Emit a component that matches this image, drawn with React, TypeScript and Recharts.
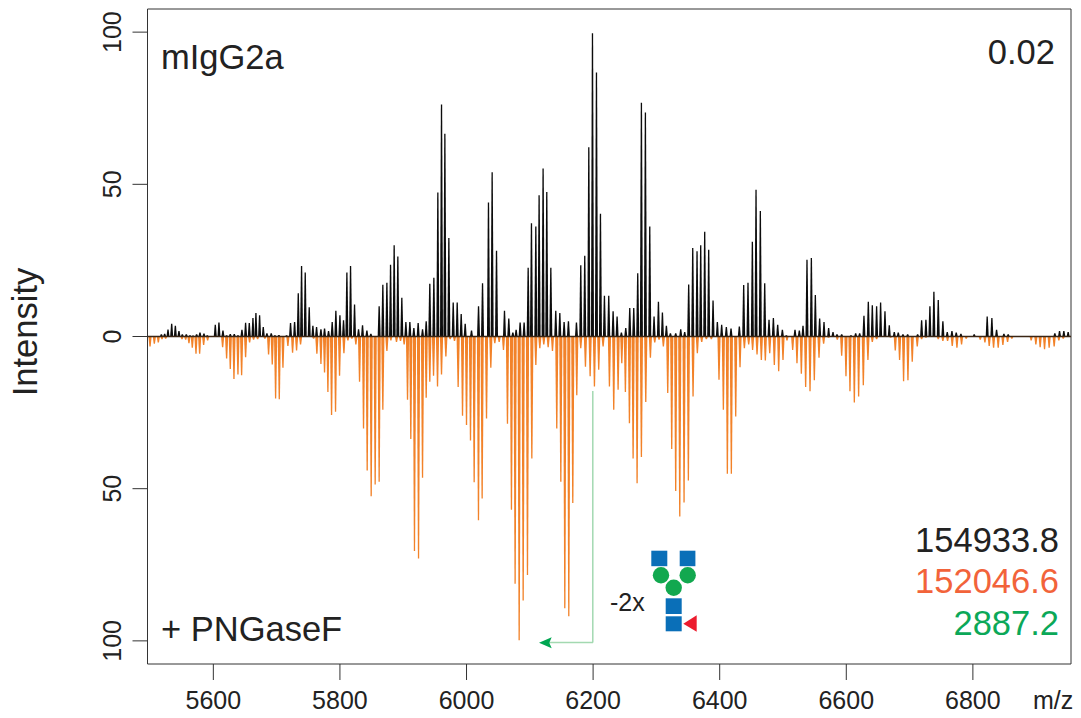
import React from "react";
import {
  ComposedChart,
  Bar,
  XAxis,
  YAxis,
  ReferenceLine,
  ReferenceArea,
  ReferenceDot,
} from "recharts";

// intact mass spectrum, peak m/z and relative intensity
const intactMz = [
  5517.9, 5523.1, 5528.4, 5534.2, 5540, 5545.7, 5551, 5557.3, 5563.1, 5567.9,
  5573.6, 5578.9, 5585.2, 5590.5, 5596.8, 5603.1, 5608.9, 5615.2, 5621, 5626.8,
  5633.1, 5638.9, 5645.2, 5651, 5656.8, 5662.6, 5667.3, 5673.1, 5678.9, 5684.7,
  5691.5, 5697.3, 5703.6, 5715.7, 5722, 5728.4, 5734.2, 5739.4, 5745.2, 5751.5,
  5757.3, 5763.1, 5770, 5775.7, 5782, 5787.8, 5793.6, 5800, 5805.7, 5811,
  5816.8, 5823.1, 5829.4, 5835.7, 5842.6, 5848.9, 5855.2, 5862, 5867.8, 5874.2,
  5880, 5885.7, 5891.5, 5897.8, 5904.2, 5910.5, 5916.8, 5923.6, 5930.5, 5936.3,
  5942, 5948.4, 5954.7, 5960.5, 5965.8, 5972.1, 5979, 5985.3, 5991.6, 5997.9,
  6007.9, 6019, 6025.3, 6034.7, 6040.5, 6047.4, 6060, 6066.8, 6073.2, 6078.4,
  6084.7, 6091, 6097.4, 6102.6, 6109.5, 6114.7, 6121, 6126.8, 6133.2, 6141,
  6147.4, 6154.2, 6161, 6173.7, 6180.5, 6186.8, 6193.2, 6199, 6205.3, 6211.6,
  6217.9, 6224.7, 6231.6, 6237.9, 6244.7, 6251.6, 6257.9, 6264.2, 6270.5, 6276.3,
  6282.6, 6289.5, 6296.3, 6303.2, 6309.5, 6315.8, 6322.1, 6330.5, 6338.4, 6344.7,
  6351, 6357.4, 6364.2, 6370, 6376.3, 6382.6, 6389.5, 6396.3, 6403.1, 6410.5,
  6417.9, 6431, 6437.9, 6444.7, 6451.6, 6457.4, 6464.2, 6471.1, 6477.9, 6484.8,
  6491.6, 6499, 6505.3, 6519, 6525.8, 6531.6, 6537.9, 6544.8, 6551.1, 6557.9,
  6564.8, 6572.1, 6579, 6585.3, 6592.7, 6607.4, 6614.8, 6621.1, 6627.9, 6634.8,
  6641.1, 6647.9, 6654.2, 6661.1, 6667.9, 6675.8, 6682.1, 6689.5, 6696.9, 6712.7,
  6719, 6725.8, 6732.1, 6738.4, 6745.3, 6752.6, 6759.5, 6766.9, 6773.7, 6781.1,
  6802.1, 6822.6, 6830, 6837.4, 6849, 6855.8, 6929.5, 6936.9, 6943.7, 6950.5,
];
const intactIntensity = [
  0.7, 0.9, 2.3, 4.2, 3.5, 1.8, 0.7, 0.7, 0.4, 0.3,
  0.7, 1.3, 1, 0.4, 0.2, 3.9, 4.6, 2, 0.4, 0.8,
  0.8, 0.4, 2.2, 4.5, 4.4, 6.1, 7.7, 7, 3.1, 1.1,
  1.1, 0.4, 0.5, 0.4, 4.4, 4.8, 14.2, 23.2, 21, 9.6,
  3.5, 3.1, 2.4, 2.6, 1.8, 4.8, 8.5, 7, 5.3, 21,
  23.2, 10.5, 2.4, 3.7, 2, 0.9, 0.2, 9.9, 17, 17.7,
  23.6, 30, 26.3, 12.7, 4.8, 4.8, 2.8, 4.4, 2.4, 5,
  17.3, 19.3, 47.3, 76.2, 66.6, 32.4, 11.2, 11.2, 7.4, 4.2,
  2, 9.9, 17.5, 44, 54, 28.2, 8.5, 5.9, 1.3, 2.2,
  4.6, 4.6, 22.6, 37.2, 36.1, 46.4, 55.2, 47.5, 22.6, 8.5,
  7.7, 4.8, 5, 4.6, 23.4, 26.5, 62.2, 99.6, 86.7, 40.3,
  13.4, 13.4, 8.3, 6.6, 1.3, 2.8, 9.4, 9.4, 20.8, 76.8,
  73.6, 36.1, 6.6, 11.4, 7.9, 3.5, 1.1, 1.1, 2.4, 1.5,
  17.1, 29.1, 28, 30, 34.4, 28.5, 11.8, 4.8, 3.9, 3.1,
  2.6, 3.3, 16.9, 17.7, 31.1, 48.2, 41.2, 17.5, 5.5, 6.1,
  3.9, 2.2, 0.4, 2.2, 2, 3.5, 25.2, 25.8, 13.6, 5.9,
  4.8, 2.8, 1.5, 0.7, 0.7, 0.4, 1.1, 1.1, 6.8, 11.4,
  10.3, 9.9, 11.2, 8.3, 3.7, 1.5, 1.3, 0.7, 0.7, 0.7,
  5.3, 5.5, 9.9, 14.7, 12, 5, 1.5, 1.8, 1.3, 0.9,
  0.7, 6.6, 6.1, 2.2, 0.9, 0.7, 1.1, 1.8, 1.8, 1.5,
];

// PNGaseF treated spectrum, drawn downwards
const digestMz = [
  5500, 5506.8, 5513.1, 5518.9, 5524.7, 5550.5, 5556.3, 5561.5, 5566.8, 5572.6,
  5578.4, 5584.7, 5591, 5614.7, 5621, 5626.8, 5632.6, 5638.9, 5644.7, 5651,
  5657.3, 5663.6, 5670, 5681.5, 5687.3, 5693.1, 5698.4, 5704.2, 5710, 5717.8,
  5725.2, 5731.5, 5737.8, 5758.4, 5763.6, 5770, 5775.7, 5781, 5786.8, 5793.1,
  5799.4, 5806.3, 5812.6, 5818.9, 5825.2, 5831, 5837.3, 5843.1, 5849.4, 5855.7,
  5862, 5867.8, 5874.2, 5880.5, 5889.4, 5895.7, 5901.5, 5906.8, 5912, 5917.8,
  5924.2, 5930.5, 5936.3, 5942, 5947.9, 5954.2, 5960.5, 5967.4, 5974.2, 5981,
  5986.8, 5993.7, 6000, 6006.3, 6012.1, 6018.9, 6024.7, 6031.6, 6038.4, 6044.7,
  6051.6, 6058.4, 6064.7, 6071, 6076.8, 6083.2, 6089.5, 6096.3, 6103.2, 6109.5,
  6115.8, 6122.1, 6129, 6135.8, 6142.6, 6149, 6155.3, 6161.6, 6167.9, 6174.2,
  6180.5, 6187.9, 6195.3, 6202.1, 6208.9, 6215.8, 6225.8, 6232.6, 6239.5, 6245.3,
  6251, 6257.4, 6263.2, 6269.5, 6276.3, 6283.2, 6290.5, 6297.4, 6304.2, 6311,
  6317.9, 6324.2, 6330.5, 6336.9, 6343.7, 6350.5, 6357.9, 6364.7, 6371.6, 6378.9,
  6386.8, 6398.9, 6405.8, 6412.1, 6418.4, 6425.3, 6432.1, 6439, 6445.8, 6452,
  6459, 6465.8, 6472.1, 6479, 6486.3, 6493.2, 6500, 6506.3, 6515.3, 6522.1,
  6529, 6535.8, 6542.7, 6549.5, 6556.9, 6564.2, 6572, 6585.8, 6592.7, 6599.5,
  6605.8, 6612.7, 6619.5, 6626.9, 6634.2, 6641.1, 6647.9, 6670, 6677.4, 6684.2,
  6690.5, 6697.4, 6704.2, 6712.1, 6719, 6725.8, 6745.3, 6752.6, 6760, 6767.4,
  6774.8, 6782.1, 6789.5, 6811.6, 6819, 6825.8, 6832.7, 6840, 6847.4, 6854.8,
  6861.6, 6892.1, 6899.5, 6906.3, 6913.2, 6920.5, 6928.4, 6935.8, 6942.7,
];
const digestIntensity = [
  3.3, 2.4, 2, 0.9, 0.7, 0.9, 1.1, 2.2, 3.7, 5.7,
  5.7, 2.8, 1.3, 3.5, 7.2, 10.7, 14, 12.5, 12.7, 6.8,
  2, 1.1, 0.9, 0.7, 5.9, 9.2, 20.4, 20.6, 10.3, 3.1,
  5.3, 4.6, 2.6, 0.7, 5.7, 9, 11.8, 18.2, 25.8, 24.7,
  12.9, 5.5, 1.3, 0.7, 2.6, 14.9, 30.2, 44, 52.5, 48.6,
  47.7, 24.1, 4.8, 1.3, 1.8, 1.5, 2.6, 20.8, 33.7, 70.5,
  72.9, 46.4, 20.1, 14.9, 12.9, 16.4, 12.5, 6.6, 0.9, 1.5,
  16.6, 26, 29.1, 34.2, 47.9, 60.4, 53.2, 26.9, 10.3, 2.2,
  1.8, 4.4, 28.7, 56.9, 81.2, 99.8, 86.7, 78.4, 40.1, 9.4,
  3.9, 2.6, 3.5, 4.8, 30.2, 47.7, 89.3, 91.9, 54.7, 19.3,
  3.9, 9.9, 13.1, 16.4, 10.9, 3.3, 16.4, 24.1, 17.5, 8.8,
  18.2, 28.5, 40.1, 48.2, 39.6, 21.5, 7, 2, 1.1, 3.3,
  18.6, 37, 50.8, 59.1, 54.5, 47.3, 19.7, 5.5, 1.8, 0.9,
  0.9, 14.2, 24.1, 45.1, 45.1, 26.3, 10.1, 3.9, 2.6, 4.4,
  5.9, 7.7, 7.9, 5.5, 9.4, 11.4, 7.7, 1.3, 4.4, 8.8,
  12.2, 16.6, 18, 14.4, 7, 2.4, 0.4, 1.1, 6.3, 13.1,
  18, 21.7, 19.7, 16, 7.7, 1.8, 0.9, 0.4, 4.6, 7.7,
  14.7, 14.4, 8.3, 3.3, 0.9, 0.4, 0.9, 1.5, 1.5, 3.1,
  3.7, 2.6, 0.7, 1.1, 2, 3.1, 3.7, 3.7, 2.8, 1.8,
  0.7, 1.3, 2.6, 3.5, 4.2, 3.7, 3.3, 1.3, 0.7,
];

const xTicks = [5600, 5800, 6000, 6200, 6400, 6600, 6800];
const yTicks = [-100, -50, 0, 50, 100];

const rows = [
  ...intactMz.map((mz, i) => ({ mz, intact: intactIntensity[i] })),
  ...digestMz.map((mz, i) => ({ mz, digest: -digestIntensity[i] })),
].sort((a, b) => a.mz - b.mz);

const font = "'Liberation Sans', Arial, sans-serif";
const ink = "#222";

// profile-looking peak: narrow at the tip, wider at the baseline
function Stem(props: any) {
  const { x, y, width, height, fill, tip, foot } = props;
  if (!height) return null;
  const cx = x + width / 2;
  const base = y + height;
  return (
    <path
      d={`M${cx - foot / 2} ${base}L${cx - tip / 2} ${y}L${cx + tip / 2} ${y}L${cx + foot / 2} ${base}Z`}
      fill={fill}
    />
  );
}

function XTick({ x, payload }: any) {
  return (
    <text x={x} y={709} textAnchor="middle" fontSize={25} fontFamily={font} fill={ink}>
      {payload.value}
    </text>
  );
}

function YTick({ y, payload }: any) {
  return (
    <text
      x={121}
      y={y}
      transform={`rotate(-90 121 ${y})`}
      textAnchor="middle"
      fontSize={25}
      fontFamily={font}
      fill={ink}
    >
      {Math.abs(payload.value)}
    </text>
  );
}

function ArrowHead() {
  return <path d="M539 642.7L551.7 637.3L549.3 642.7L551.7 648.3Z" fill="#00A651" />;
}

// Fc glycan cartoon next to the -2x label
function Glycan() {
  const blue = "#0A6FB8";
  const green = "#12A84F";
  return (
    <g>
      <rect x={651.3} y={550.7} width={16} height={15.5} fill={blue} />
      <rect x={679.7} y={550.7} width={15.7} height={15.5} fill={blue} />
      <circle cx={661} cy={575.3} r={8.2} fill={green} />
      <circle cx={687.7} cy={575.3} r={8.2} fill={green} />
      <circle cx={673.7} cy={587.7} r={8.2} fill={green} />
      <rect x={665.7} y={598.3} width={16} height={15.7} fill={blue} />
      <rect x={665.7} y={616.3} width={16} height={15} fill={blue} />
      <path d="M683.3 623.7L696.7 615.3L696.7 631.7Z" fill="#EC1C2E" />
    </g>
  );
}

function Label({ x, y, size = 34.5, color = ink, anchor = "start", children }: any) {
  return (
    <text x={x} y={y} fontSize={size} fill={color} textAnchor={anchor} fontFamily={font}>
      {children}
    </text>
  );
}

export default function App() {
  return (
    <div style={{ position: "absolute", left: 0, top: 0, width: 1081, height: 718, background: "#fff" }}>
      <ComposedChart
        width={1081}
        height={718}
        data={rows}
        stackOffset="sign"
        barGap={0}
        margin={{ top: 9, right: 10, bottom: 0, left: 0 }}
      >
        <XAxis
          dataKey="mz"
          type="number"
          domain={[5496, 6955]}
          ticks={xTicks}
          allowDataOverflow
          height={54}
          tickSize={16}
          interval={0}
          stroke="#333"
          axisLine={false}
          tick={<XTick />}
        />
        <YAxis
          type="number"
          domain={[-107.6, 107.6]}
          ticks={yTicks}
          allowDataOverflow
          width={147.5}
          tickSize={15}
          interval={0}
          stroke="#333"
          axisLine={false}
          tick={<YTick />}
        />
        <Bar dataKey="digest" stackId="s" barSize={2} fill="#F28229" isAnimationActive={false} shape={<Stem tip={1.3} foot={3.2} />} />
        <Bar dataKey="intact" stackId="s" barSize={2} fill="#0c0c0c" isAnimationActive={false} shape={<Stem tip={1.3} foot={3} />} />
        <ReferenceLine y={0} stroke="#3a2615" strokeWidth={1.4} />
        <ReferenceArea x1={5496} x2={6955} y1={-107.6} y2={107.6} fill="none" stroke="#333" strokeWidth={1} />
        <ReferenceLine
          segment={[{ x: 6199.5, y: -17.9 }, { x: 6199.5, y: -100.5 }]}
          stroke="#A3D9B1"
          strokeWidth={1.5}
        />
        <ReferenceLine
          segment={[{ x: 6199.9, y: -100.5 }, { x: 6125, y: -100.5 }]}
          stroke="#A3D9B1"
          strokeWidth={1.5}
        />
        <ReferenceDot x={6114} y={-100.5} r={0} shape={<ArrowHead />} />
        <Glycan />
        <Label x={161} y={69}>mIgG2a</Label>
        <Label x={1055} y={64} anchor="end">0.02</Label>
        <Label x={161} y={640.7}>+ PNGaseF</Label>
        <Label x={1059} y={552} anchor="end">154933.8</Label>
        <Label x={1059} y={593} anchor="end" color="#F2633A">152046.6</Label>
        <Label x={1059} y={635} anchor="end" color="#0BA858">2887.2</Label>
        <Label x={610} y={611} size={25}>-2x</Label>
        <Label x={1033} y={709} size={25}>m/z</Label>
        <text
          x={37}
          y={332}
          transform="rotate(-90 37 332)"
          textAnchor="middle"
          fontSize={34.5}
          fontFamily={font}
          fill={ink}
        >
          Intensity
        </text>
      </ComposedChart>
    </div>
  );
}
